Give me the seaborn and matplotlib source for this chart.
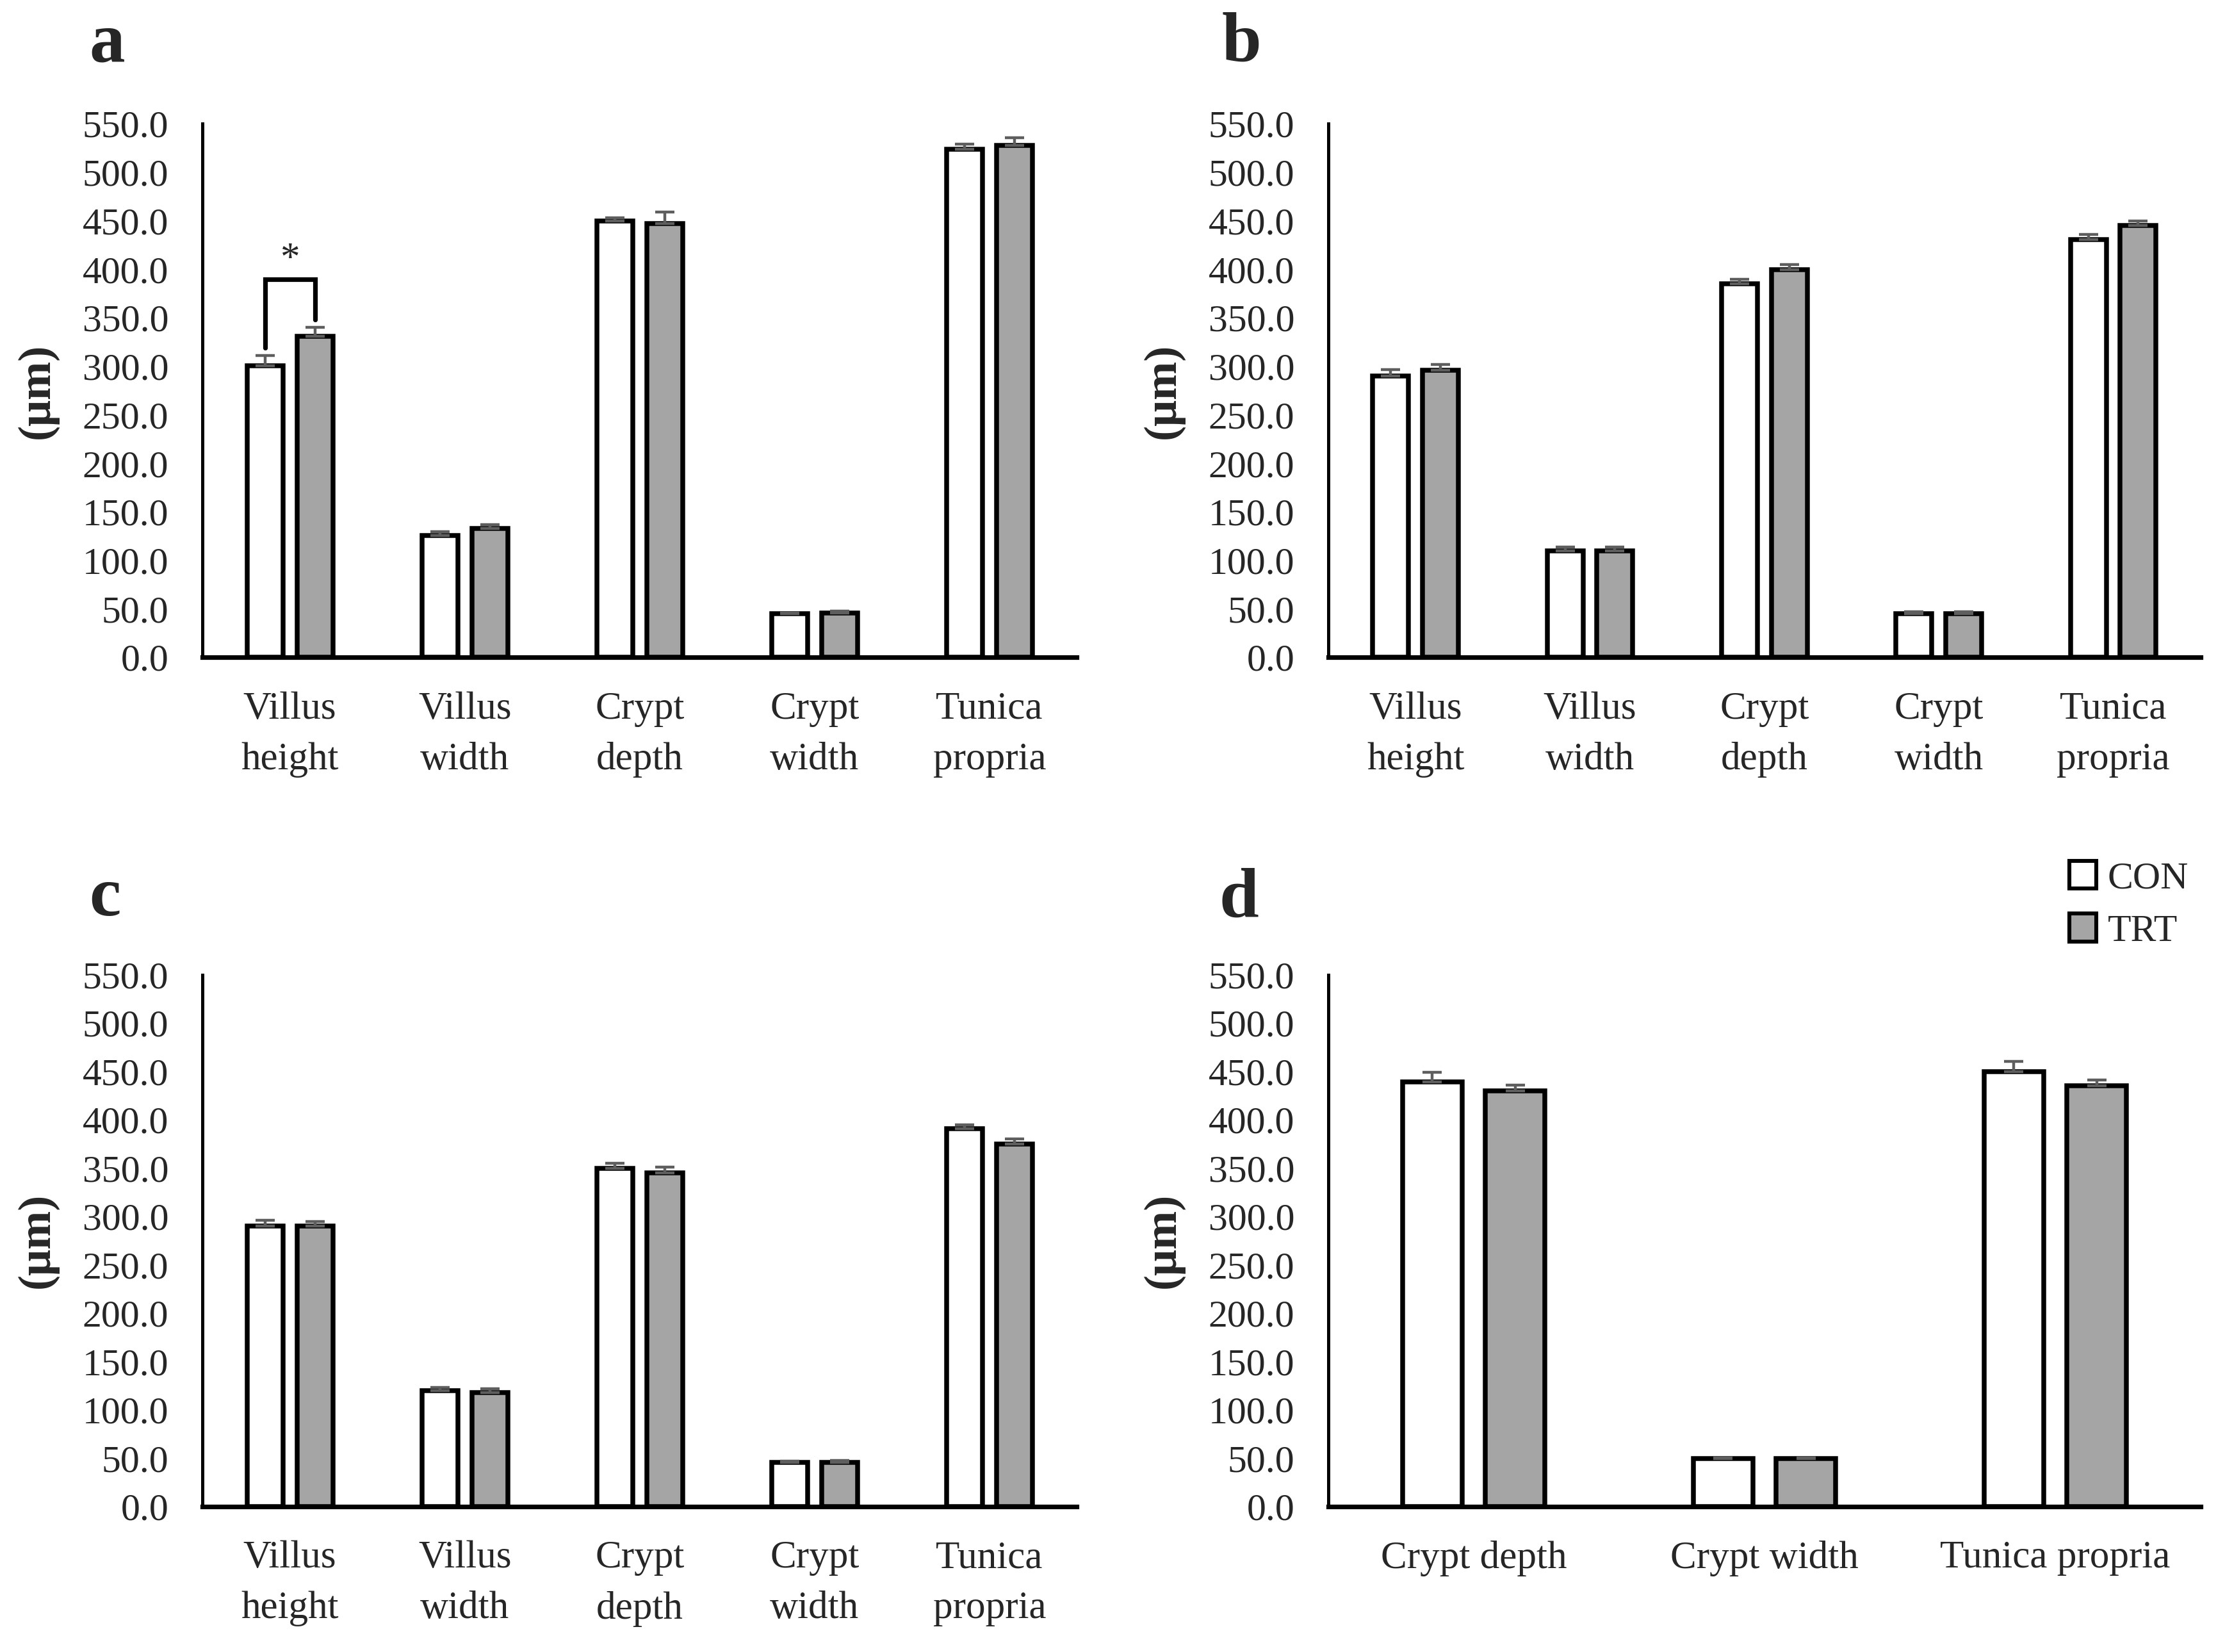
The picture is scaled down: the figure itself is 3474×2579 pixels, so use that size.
import numpy as np
import pandas as pd
import matplotlib
matplotlib.use("Agg")
import matplotlib.pyplot as plt
import seaborn as sns
from matplotlib.patches import Patch

# ---------------- data ----------------
groups = ["CON", "TRT"]
cats5 = ["Villus\nheight", "Villus\nwidth", "Crypt\ndepth", "Crypt\nwidth", "Tunica\npropria"]
cats3 = ["Crypt depth", "Crypt width", "Tunica propria"]
yticks = [0, 50, 100, 150, 200, 250, 300, 350, 400, 450, 500, 550]

a_con = [301, 126, 450, 45, 524]
a_trt = [331, 133, 447, 46, 528]
a_con_se = [10, 4, 3, 1, 5]
a_trt_se = [9, 4, 12, 2, 8]

b_con = [290, 110, 385, 45, 431]
b_trt = [296, 110, 400, 45, 445]
b_con_se = [7, 4, 5, 2, 5]
b_trt_se = [6, 4, 5, 2, 5]

c_con = [290, 120, 350, 46, 391]
c_trt = [290, 118, 345, 46, 375]
c_con_se = [6, 3, 5, 1, 4]
c_trt_se = [5, 4, 6, 2, 5]

d_con = [439, 49.5, 450]
d_trt = [430, 49.5, 435]
d_con_se = [10, 1, 10]
d_trt_se = [6, 1, 6]

# ---------------- style ----------------
sns.set_style("white")
plt.rcParams["font.family"] = ["Liberation Serif", "DejaVu Serif"]

CON_COLOR = "white"
TRT_COLOR = "#a5a5a5"
EDGE_LW = 2.7
FS = 21.5

fig = plt.figure(figsize=(3474 / 200, 2579 / 200), dpi=200)

positions = {
    "a": [0.091, 0.602, 0.393, 0.323],
    "b": [0.597, 0.602, 0.392, 0.323],
    "c": [0.091, 0.088, 0.393, 0.322],
    "d": [0.597, 0.088, 0.392, 0.322],
}


def draw(ax, cats, con, trt, con_se, trt_se):
    n = len(cats)
    df = pd.DataFrame({
        "cat": list(cats) * 2,
        "grp": ["CON"] * n + ["TRT"] * n,
        "val": list(con) + list(trt),
    })
    sns.barplot(data=df, x="cat", y="val", hue="grp", order=cats, hue_order=groups,
                palette={"CON": CON_COLOR, "TRT": TRT_COLOR}, saturation=1,
                edgecolor="black", linewidth=EDGE_LW, width=0.57, gap=0.28,
                errorbar=None, legend=False, ax=ax)
    centers = []
    for cont, se in zip(ax.containers, [con_se, trt_se]):
        xs = [p.get_x() + p.get_width() / 2 for p in cont]
        hs = [p.get_height() for p in cont]
        ax.errorbar(xs, hs, yerr=[np.zeros(n), se], fmt="none", ecolor="#5e5e5e",
                    elinewidth=1.6, capsize=5.5, capthick=1.6, zorder=5)
        centers.append(xs)
    ax.set_ylim(0, 550)
    ax.set_xlim(-0.5, n - 0.5)
    ax.set_yticks(yticks)
    ax.set_yticklabels([f"{v:.1f}" for v in yticks], fontsize=FS)
    ax.set_xticks(range(n))
    ax.set_xticklabels(cats, fontsize=FS + 0.5, linespacing=1.55)
    ax.set_xlabel("")
    ax.set_ylabel("(μm)", fontsize=26, fontweight="bold")
    ax.yaxis.set_label_coords(-0.165, 0.5)
    ax.tick_params(axis="y", length=0, pad=19)
    ax.tick_params(axis="x", length=0, pad=19)
    for s in ["top", "right"]:
        ax.spines[s].set_visible(False)
    ax.spines["left"].set_linewidth(1.8)
    ax.spines["bottom"].set_linewidth(2.6)
    ax.spines["left"].set_color("black")
    ax.spines["bottom"].set_color("black")
    return centers


axa = fig.add_axes(positions["a"])
ca = draw(axa, cats5, a_con, a_trt, a_con_se, a_trt_se)
axb = fig.add_axes(positions["b"])
draw(axb, cats5, b_con, b_trt, b_con_se, b_trt_se)
axc = fig.add_axes(positions["c"])
draw(axc, cats5, c_con, c_trt, c_con_se, c_trt_se)
axd = fig.add_axes(positions["d"])
draw(axd, cats3, d_con, d_trt, d_con_se, d_trt_se)

# significance bracket (panel a, villus height)
x1, x2 = ca[0][0], ca[1][0]
y1 = a_con[0] + a_con_se[0] + 8
y2 = a_trt[0] + a_trt_se[0] + 8
ytop = 390
axa.plot([x1, x1, x2, x2], [y1, ytop, ytop, y2], color="black", lw=2.6,
         solid_joinstyle="miter", zorder=6)
axa.text((x1 + x2) / 2, 410, "*", ha="center", va="center", fontsize=22)

# panel letters
for letter, (x, y) in {"a": (0.040, 0.963), "b": (0.549, 0.963),
                       "c": (0.040, 0.446), "d": (0.548, 0.445)}.items():
    fig.text(x, y, letter, fontsize=40, fontweight="bold", ha="left", va="baseline")

# legend
handles = [Patch(facecolor=CON_COLOR, edgecolor="black", linewidth=2.2),
           Patch(facecolor=TRT_COLOR, edgecolor="black", linewidth=2.2)]
fig.legend(handles=handles, labels=groups, loc="upper left",
           bbox_to_anchor=(0.930, 0.479), bbox_transform=fig.transFigure,
           frameon=False, fontsize=FS, handlelength=0.7, handleheight=0.75,
           handletextpad=0.3, labelspacing=0.45, borderpad=0, borderaxespad=0)

fig.savefig("out.png", dpi=200, facecolor="white")
